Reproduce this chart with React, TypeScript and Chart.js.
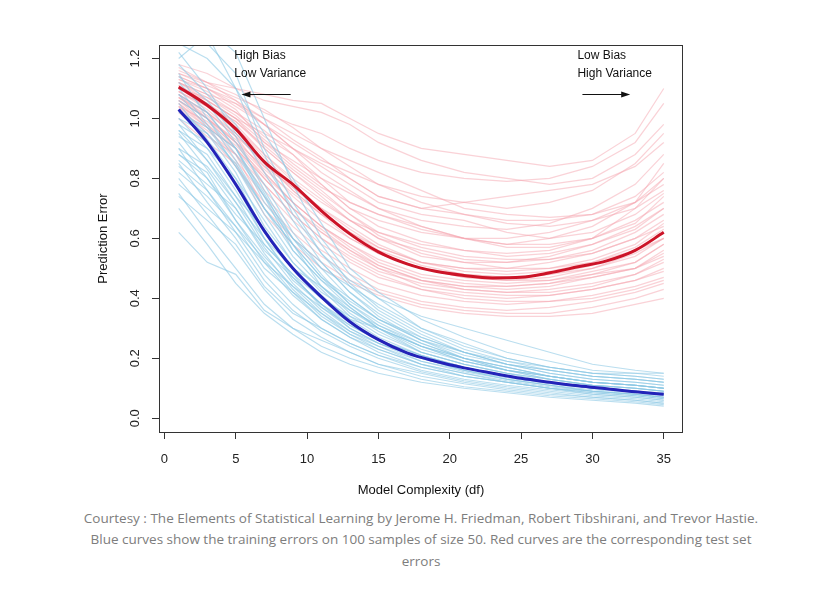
import React, { useEffect, useRef } from "react";
import { Chart, registerables } from "chart.js";

Chart.register(...registerables);

const FONT = "'Liberation Sans', Arial, Helvetica, sans-serif";

// model complexity (df) where individual sample curves are read
const dfGrid = [1, 3, 5, 7, 9, 11, 13, 15, 18, 21, 24, 27, 30, 33, 35];
// df for the averaged curves
const meanDf = [1, 3, 5, 7, 9, 11, 13, 15, 17, 19, 21, 23, 25, 27, 29, 31, 33, 35];

const meanTrainError = [1.03, 0.92, 0.78, 0.625, 0.5, 0.405, 0.322, 0.262, 0.218, 0.19, 0.168, 0.15, 0.133, 0.12, 0.108, 0.098, 0.088, 0.08];
const meanTestError = [1.105, 1.044, 0.965, 0.855, 0.78, 0.692, 0.615, 0.555, 0.515, 0.49, 0.476, 0.468, 0.47, 0.485, 0.505, 0.525, 0.56, 0.62];

// training-error curves (blue), one row per sample, values at dfGrid
const trainCurves = [
  [1.25, 1.2, 1.1, 0.95, 0.8, 0.65, 0.5, 0.42, 0.33, 0.27, 0.22, 0.19, 0.16, 0.15, 0.14],
  [1.3, 1.25, 1.15, 0.9, 0.72, 0.58, 0.45, 0.37, 0.29, 0.23, 0.19, 0.16, 0.14, 0.13, 0.12],
  [1.18, 1.08, 0.98, 0.82, 0.66, 0.52, 0.42, 0.35, 0.27, 0.22, 0.18, 0.15, 0.13, 0.12, 0.11],
  [1.12, 1.02, 0.9, 0.72, 0.6, 0.48, 0.38, 0.31, 0.24, 0.19, 0.16, 0.14, 0.12, 0.11, 0.1],
  [1.08, 0.97, 0.84, 0.68, 0.54, 0.44, 0.35, 0.29, 0.22, 0.18, 0.15, 0.13, 0.11, 0.1, 0.09],
  [1.05, 0.93, 0.8, 0.62, 0.5, 0.41, 0.33, 0.27, 0.21, 0.17, 0.14, 0.12, 0.1, 0.09, 0.085],
  [1.0, 0.9, 0.76, 0.6, 0.47, 0.38, 0.31, 0.26, 0.2, 0.16, 0.135, 0.115, 0.1, 0.09, 0.08],
  [0.98, 0.86, 0.72, 0.57, 0.45, 0.36, 0.29, 0.24, 0.19, 0.155, 0.13, 0.11, 0.095, 0.085, 0.075],
  [0.95, 0.83, 0.7, 0.55, 0.43, 0.34, 0.28, 0.23, 0.18, 0.15, 0.125, 0.105, 0.09, 0.08, 0.07],
  [0.92, 0.8, 0.66, 0.52, 0.41, 0.33, 0.27, 0.22, 0.17, 0.14, 0.12, 0.1, 0.085, 0.075, 0.065],
  [0.9, 0.76, 0.62, 0.48, 0.38, 0.3, 0.25, 0.21, 0.16, 0.13, 0.11, 0.095, 0.08, 0.07, 0.06],
  [0.85, 0.72, 0.6, 0.46, 0.36, 0.29, 0.24, 0.2, 0.155, 0.125, 0.105, 0.09, 0.075, 0.065, 0.055],
  [0.8, 0.68, 0.56, 0.43, 0.33, 0.27, 0.22, 0.18, 0.14, 0.115, 0.095, 0.08, 0.07, 0.06, 0.05],
  [0.75, 0.62, 0.5, 0.38, 0.3, 0.24, 0.2, 0.17, 0.13, 0.105, 0.09, 0.075, 0.065, 0.055, 0.045],
  [0.7, 0.58, 0.45, 0.35, 0.28, 0.22, 0.18, 0.15, 0.12, 0.1, 0.085, 0.07, 0.06, 0.05, 0.04],
  [0.62, 0.52, 0.48, 0.36, 0.3, 0.26, 0.22, 0.18, 0.15, 0.12, 0.1, 0.085, 0.07, 0.06, 0.05],
  [1.22, 1.1, 0.95, 0.85, 0.7, 0.55, 0.46, 0.4, 0.34, 0.3, 0.26, 0.22, 0.18, 0.16, 0.15],
  [1.1, 1.05, 0.92, 0.78, 0.62, 0.5, 0.44, 0.38, 0.3, 0.25, 0.2, 0.17, 0.15, 0.15, 0.15],
  [1.0, 0.95, 0.85, 0.7, 0.58, 0.47, 0.4, 0.33, 0.26, 0.21, 0.18, 0.16, 0.14, 0.13, 0.12],
  [0.88, 0.8, 0.68, 0.58, 0.48, 0.4, 0.34, 0.3, 0.24, 0.2, 0.17, 0.14, 0.12, 0.11, 0.1],
  [0.96, 0.9, 0.8, 0.66, 0.52, 0.42, 0.36, 0.31, 0.25, 0.2, 0.16, 0.13, 0.11, 0.1, 0.09],
  [1.15, 1.0, 0.86, 0.7, 0.56, 0.46, 0.37, 0.3, 0.23, 0.19, 0.16, 0.13, 0.11, 0.1, 0.09],
  [0.82, 0.74, 0.64, 0.5, 0.42, 0.35, 0.29, 0.25, 0.2, 0.16, 0.13, 0.11, 0.09, 0.08, 0.07],
  [1.03, 0.95, 0.82, 0.64, 0.52, 0.43, 0.34, 0.28, 0.22, 0.18, 0.15, 0.13, 0.11, 0.1, 0.09],
  [0.78, 0.7, 0.62, 0.52, 0.44, 0.37, 0.31, 0.26, 0.21, 0.17, 0.14, 0.12, 0.1, 0.09, 0.08],
  [1.28, 1.3, 1.22, 1.0, 0.78, 0.6, 0.48, 0.4, 0.3, 0.24, 0.2, 0.17, 0.15, 0.14, 0.13],
  [1.2, 1.28, 1.1, 0.88, 0.68, 0.55, 0.44, 0.36, 0.28, 0.22, 0.18, 0.16, 0.14, 0.13, 0.12],
  [1.06, 1.0, 0.88, 0.74, 0.6, 0.52, 0.42, 0.34, 0.26, 0.22, 0.19, 0.17, 0.15, 0.14, 0.13],
  [0.94, 0.88, 0.74, 0.63, 0.5, 0.4, 0.33, 0.3, 0.24, 0.19, 0.16, 0.14, 0.12, 0.11, 0.1],
  [0.86, 0.78, 0.7, 0.56, 0.47, 0.38, 0.3, 0.25, 0.2, 0.17, 0.14, 0.12, 0.1, 0.09, 0.08],
  [0.98, 0.92, 0.78, 0.6, 0.5, 0.44, 0.37, 0.3, 0.22, 0.18, 0.15, 0.12, 0.1, 0.09, 0.08],
  [1.1, 0.98, 0.84, 0.7, 0.58, 0.44, 0.36, 0.3, 0.24, 0.2, 0.17, 0.14, 0.12, 0.11, 0.1],
  [0.9, 0.84, 0.72, 0.6, 0.46, 0.38, 0.32, 0.26, 0.21, 0.17, 0.14, 0.12, 0.1, 0.09, 0.08],
  [0.74, 0.66, 0.58, 0.44, 0.35, 0.3, 0.25, 0.21, 0.17, 0.14, 0.12, 0.1, 0.09, 0.08, 0.07],
  [1.14, 1.06, 0.94, 0.76, 0.6, 0.5, 0.4, 0.33, 0.26, 0.2, 0.17, 0.14, 0.12, 0.11, 0.1],
  [1.02, 0.97, 0.9, 0.74, 0.56, 0.46, 0.39, 0.33, 0.27, 0.22, 0.18, 0.15, 0.13, 0.12, 0.11],
  [0.88, 0.82, 0.66, 0.54, 0.44, 0.35, 0.28, 0.24, 0.18, 0.15, 0.12, 0.1, 0.085, 0.075, 0.065],
  [0.96, 0.86, 0.74, 0.58, 0.48, 0.37, 0.3, 0.25, 0.19, 0.16, 0.13, 0.11, 0.09, 0.08, 0.07],
  [1.08, 1.02, 0.9, 0.75, 0.58, 0.47, 0.38, 0.32, 0.25, 0.2, 0.16, 0.14, 0.12, 0.11, 0.1],
  [0.84, 0.76, 0.64, 0.53, 0.42, 0.33, 0.27, 0.23, 0.18, 0.14, 0.12, 0.1, 0.08, 0.07, 0.06],
];

// test-error curves (red), one row per sample, values at dfGrid
const testCurves = [
  [1.18, 1.15, 1.1, 1.08, 1.06, 1.05, 1.0, 0.95, 0.9, 0.88, 0.86, 0.84, 0.86, 0.95, 1.1],
  [1.15, 1.12, 1.08, 1.02, 0.98, 0.95, 0.9, 0.86, 0.82, 0.8, 0.79, 0.8, 0.84, 0.92, 1.05],
  [1.14, 1.1, 1.04, 0.98, 0.92, 0.86, 0.82, 0.78, 0.74, 0.72, 0.7, 0.72, 0.76, 0.85, 0.95],
  [1.12, 1.08, 1.02, 0.94, 0.88, 0.8, 0.75, 0.7, 0.66, 0.64, 0.63, 0.65, 0.7, 0.78, 0.88],
  [1.12, 1.06, 1.0, 0.9, 0.82, 0.75, 0.68, 0.62, 0.58, 0.56, 0.55, 0.56, 0.6, 0.7, 0.8],
  [1.1, 1.05, 0.98, 0.88, 0.79, 0.72, 0.66, 0.6, 0.54, 0.52, 0.52, 0.54, 0.58, 0.63, 0.7],
  [1.1, 1.04, 0.96, 0.86, 0.76, 0.68, 0.62, 0.57, 0.52, 0.5, 0.49, 0.5, 0.53, 0.58, 0.65],
  [1.09, 1.03, 0.95, 0.84, 0.74, 0.66, 0.6, 0.55, 0.5, 0.48, 0.47, 0.48, 0.5, 0.55, 0.6],
  [1.08, 1.02, 0.94, 0.82, 0.72, 0.64, 0.58, 0.53, 0.48, 0.46, 0.45, 0.46, 0.49, 0.52, 0.58],
  [1.08, 1.0, 0.92, 0.8, 0.7, 0.62, 0.56, 0.51, 0.46, 0.44, 0.43, 0.44, 0.47, 0.5, 0.55],
  [1.07, 1.0, 0.9, 0.78, 0.68, 0.6, 0.54, 0.49, 0.45, 0.43, 0.42, 0.43, 0.45, 0.48, 0.52],
  [1.06, 0.98, 0.88, 0.76, 0.66, 0.58, 0.52, 0.47, 0.43, 0.41, 0.4, 0.41, 0.43, 0.46, 0.5],
  [1.05, 0.97, 0.86, 0.74, 0.64, 0.56, 0.5, 0.45, 0.41, 0.39, 0.38, 0.39, 0.41, 0.44, 0.47],
  [1.04, 0.95, 0.84, 0.72, 0.62, 0.54, 0.48, 0.43, 0.39, 0.37, 0.36, 0.37, 0.39, 0.42, 0.45],
  [1.02, 0.94, 0.88, 0.7, 0.6, 0.52, 0.46, 0.42, 0.38, 0.36, 0.35, 0.35, 0.37, 0.4, 0.43],
  [1.0, 0.92, 0.85, 0.68, 0.58, 0.5, 0.45, 0.41, 0.37, 0.35, 0.34, 0.34, 0.35, 0.38, 0.4],
  [1.12, 1.08, 1.05, 1.0, 0.95, 0.9, 0.86, 0.82, 0.76, 0.7, 0.68, 0.67, 0.68, 0.72, 0.78],
  [1.11, 1.06, 1.0, 0.95, 0.9, 0.84, 0.78, 0.72, 0.68, 0.66, 0.62, 0.6, 0.62, 0.68, 0.75],
  [1.1, 1.07, 1.02, 0.96, 0.88, 0.78, 0.7, 0.66, 0.62, 0.6, 0.58, 0.6, 0.64, 0.72, 0.85],
  [1.13, 1.09, 1.03, 0.92, 0.84, 0.77, 0.72, 0.68, 0.63, 0.6, 0.58, 0.58, 0.6, 0.66, 0.72],
  [1.09, 1.04, 0.99, 0.9, 0.82, 0.74, 0.66, 0.6, 0.56, 0.53, 0.52, 0.53, 0.56, 0.62, 0.68],
  [1.06, 1.0, 0.93, 0.83, 0.75, 0.68, 0.6, 0.55, 0.5, 0.47, 0.46, 0.47, 0.5, 0.54, 0.6],
  [1.07, 1.01, 0.92, 0.84, 0.77, 0.7, 0.64, 0.58, 0.52, 0.5, 0.5, 0.52, 0.55, 0.6, 0.66],
  [1.16, 1.12, 1.06, 1.0, 0.93, 0.87, 0.8, 0.74, 0.7, 0.68, 0.66, 0.66, 0.68, 0.74, 0.82],
  [1.04, 0.97, 0.9, 0.8, 0.7, 0.63, 0.56, 0.5, 0.46, 0.44, 0.44, 0.45, 0.48, 0.52, 0.58],
  [1.17, 1.12, 1.1, 1.06, 1.04, 1.02, 0.98, 0.92, 0.86, 0.82, 0.8, 0.78, 0.8, 0.88, 0.98],
  [1.14, 1.1, 1.06, 0.98, 0.9, 0.85, 0.8, 0.74, 0.7, 0.72, 0.74, 0.76, 0.78, 0.84, 0.92],
  [1.1, 1.06, 1.0, 0.92, 0.86, 0.8, 0.72, 0.68, 0.64, 0.6, 0.6, 0.62, 0.66, 0.7, 0.76],
  [1.11, 1.05, 0.97, 0.88, 0.8, 0.73, 0.66, 0.62, 0.57, 0.54, 0.53, 0.53, 0.55, 0.6, 0.64],
  [1.08, 1.02, 0.95, 0.85, 0.76, 0.68, 0.62, 0.56, 0.51, 0.48, 0.47, 0.48, 0.51, 0.56, 0.62],
  [1.06, 1.0, 0.92, 0.82, 0.72, 0.64, 0.58, 0.52, 0.47, 0.45, 0.44, 0.45, 0.47, 0.5, 0.54],
  [1.05, 0.98, 0.9, 0.8, 0.7, 0.62, 0.55, 0.5, 0.44, 0.42, 0.41, 0.41, 0.43, 0.46, 0.49],
  [1.03, 0.96, 0.88, 0.78, 0.68, 0.6, 0.53, 0.48, 0.43, 0.4, 0.39, 0.39, 0.4, 0.43, 0.46],
  [1.09, 1.04, 0.97, 0.87, 0.78, 0.7, 0.63, 0.57, 0.52, 0.49, 0.48, 0.49, 0.52, 0.57, 0.63],
  [1.12, 1.07, 1.01, 0.93, 0.85, 0.78, 0.7, 0.64, 0.59, 0.56, 0.54, 0.55, 0.58, 0.64, 0.7],
  [1.07, 1.02, 0.94, 0.86, 0.77, 0.69, 0.62, 0.55, 0.5, 0.47, 0.46, 0.46, 0.48, 0.5, 0.56],
  [1.13, 1.1, 1.05, 0.98, 0.9, 0.82, 0.76, 0.7, 0.64, 0.6, 0.57, 0.57, 0.6, 0.65, 0.74],
  [1.04, 0.99, 0.91, 0.81, 0.72, 0.64, 0.57, 0.51, 0.46, 0.43, 0.42, 0.42, 0.44, 0.48, 0.53],
  [1.1, 1.05, 0.99, 0.91, 0.83, 0.76, 0.68, 0.61, 0.55, 0.52, 0.5, 0.5, 0.52, 0.56, 0.6],
  [1.15, 1.11, 1.07, 1.03, 0.97, 0.9, 0.84, 0.78, 0.72, 0.68, 0.65, 0.64, 0.66, 0.72, 0.8],
];

const xTicks = [0, 5, 10, 15, 20, 25, 30, 35];
const yTicks = [0.0, 0.2, 0.4, 0.6, 0.8, 1.0, 1.2];
const yTickLabels = ["0.0", "0.2", "0.4", "0.6", "0.8", "1.0", "1.2"];

const xTitle = "Model Complexity (df)";
const yTitle = "Prediction Error";
const leftNote = ["High Bias", "Low Variance"];
const rightNote = ["Low Bias", "High Variance"];
const captionLines = [
  "Courtesy : The Elements of Statistical Learning by Jerome H. Friedman, Robert Tibshirani, and Trevor Hastie.",
  "Blue curves show the training errors on 100 samples of size 50. Red curves are the corresponding test set",
  "errors",
];

const toPoints = (xs: number[], ys: number[]) => ys.map((y, i) => ({ x: xs[i], y }));

const decorPlugin = {
  id: "decor",
  afterDraw(chart: any) {
    const { ctx, chartArea: a, scales } = chart;
    const x = scales.x;
    const y = scales.y;
    ctx.save();
    // box
    ctx.strokeStyle = "#333";
    ctx.lineWidth = 1;
    ctx.strokeRect(Math.round(a.left) + 0.5, Math.round(a.top) + 0.5, Math.round(a.width) - 1, Math.round(a.height));
    // y tick labels rotated
    ctx.fillStyle = "#222";
    ctx.font = `13px ${FONT}`;
    ctx.textAlign = "center";
    ctx.textBaseline = "middle";
    yTicks.forEach((v, i) => {
      const py = y.getPixelForValue(v);
      ctx.save();
      ctx.translate(a.left - 24, py);
      ctx.rotate(-Math.PI / 2);
      ctx.fillText(yTickLabels[i], 0, 0);
      ctx.restore();
    });
    // axis titles
    ctx.font = `13px ${FONT}`;
    ctx.fillStyle = "#111";
    ctx.fillText(xTitle, (a.left + a.right) / 2, a.bottom + 58);
    ctx.save();
    ctx.translate(a.left - 56, (a.top + a.bottom) / 2);
    ctx.rotate(-Math.PI / 2);
    ctx.fillText(yTitle, 0, 0);
    ctx.restore();
    // notes
    ctx.font = `12px ${FONT}`;
    ctx.textAlign = "left";
    ctx.fillText(leftNote[0], x.getPixelForValue(4.9), y.getPixelForValue(1.208));
    ctx.fillText(leftNote[1], x.getPixelForValue(4.9), y.getPixelForValue(1.148));
    ctx.fillText(rightNote[0], x.getPixelForValue(28.95), y.getPixelForValue(1.208));
    ctx.fillText(rightNote[1], x.getPixelForValue(28.95), y.getPixelForValue(1.148));
    const arrow = (x0: number, x1: number, yv: number) => {
      const px0 = x.getPixelForValue(x0);
      const px1 = x.getPixelForValue(x1);
      const py = Math.round(y.getPixelForValue(yv)) + 0.5;
      const dir = Math.sign(px1 - px0);
      ctx.strokeStyle = "#111";
      ctx.lineWidth = 1;
      ctx.beginPath();
      ctx.moveTo(px0, py);
      ctx.lineTo(px1 - dir * 6, py);
      ctx.stroke();
      ctx.beginPath();
      ctx.moveTo(px1, py);
      ctx.lineTo(px1 - dir * 9, py - 3);
      ctx.lineTo(px1 - dir * 9, py + 3);
      ctx.closePath();
      ctx.fill();
    };
    arrow(8.85, 5.4, 1.081);
    arrow(29.3, 32.65, 1.081);
    ctx.restore();
  },
};

export default function App() {
  const ref = useRef<HTMLCanvasElement>(null);
  useEffect(() => {
    if (!ref.current) return;
    const lightBlue = "rgba(140,200,228,0.6)";
    const lightRed = "rgba(245,165,175,0.5)";
    const datasets: any[] = [
      {
        data: toPoints(meanDf, meanTrainError),
        borderColor: "#2323b8",
        borderWidth: 3,
        cubicInterpolationMode: "monotone",
        order: 0,
      },
      {
        data: toPoints(meanDf, meanTestError),
        borderColor: "#cc1428",
        borderWidth: 3,
        cubicInterpolationMode: "monotone",
        order: 1,
      },
      ...trainCurves.map((c) => ({
        data: toPoints(dfGrid, c),
        borderColor: lightBlue,
        borderWidth: 1.2,
        order: 2,
      })),
      ...testCurves.map((c) => ({
        data: toPoints(dfGrid, c),
        borderColor: lightRed,
        borderWidth: 1.2,
        order: 3,
      })),
    ];
    const chart = new Chart(ref.current, {
      type: "line",
      data: { datasets },
      options: {
        responsive: false,
        animation: false,
        layout: { padding: { left: 0, top: 45, right: 131, bottom: 20 } },
        elements: { point: { radius: 0 }, line: { tension: 0 } },
        plugins: { legend: { display: false }, tooltip: { enabled: false } },
        scales: {
          x: {
            type: "linear",
            min: -0.38,
            max: 36.35,
            afterBuildTicks: (s: any) => {
              s.ticks = xTicks.map((v) => ({ value: v }));
            },
            afterFit: (s: any) => {
              s.height = 48;
            },
            grid: { drawOnChartArea: false, drawTicks: true, tickLength: 7, color: "#333" },
            border: { display: false },
            ticks: { color: "#222", font: { family: FONT, size: 13 }, padding: 13, maxRotation: 0, autoSkip: false },
          },
          y: {
            type: "linear",
            min: -0.046,
            max: 1.245,
            afterBuildTicks: (s: any) => {
              s.ticks = yTicks.map((v) => ({ value: v }));
            },
            afterFit: (s: any) => {
              s.width = 159;
            },
            grid: { drawOnChartArea: false, drawTicks: true, tickLength: 7, color: "#333" },
            border: { display: false },
            ticks: { display: false },
          },
        },
      },
      plugins: [decorPlugin],
    } as any);
    return () => chart.destroy();
  }, []);

  return (
    <div style={{ position: "absolute", left: 0, top: 0, width: 814, height: 599, background: "#fff" }}>
      <canvas ref={ref} width={814} height={500} style={{ display: "block" }} />
      <div
        style={{
          position: "absolute",
          left: 0,
          top: 507.5,
          width: 842,
          textAlign: "center",
          fontFamily: "'Open Sans', sans-serif",
          fontSize: 13.5,
          lineHeight: "21.5px",
          color: "#7d7d7d",
        }}
      >
        {captionLines.map((l, i) => (
          <div key={i} style={{ whiteSpace: "nowrap" }}>
            {l}
          </div>
        ))}
      </div>
    </div>
  );
}
